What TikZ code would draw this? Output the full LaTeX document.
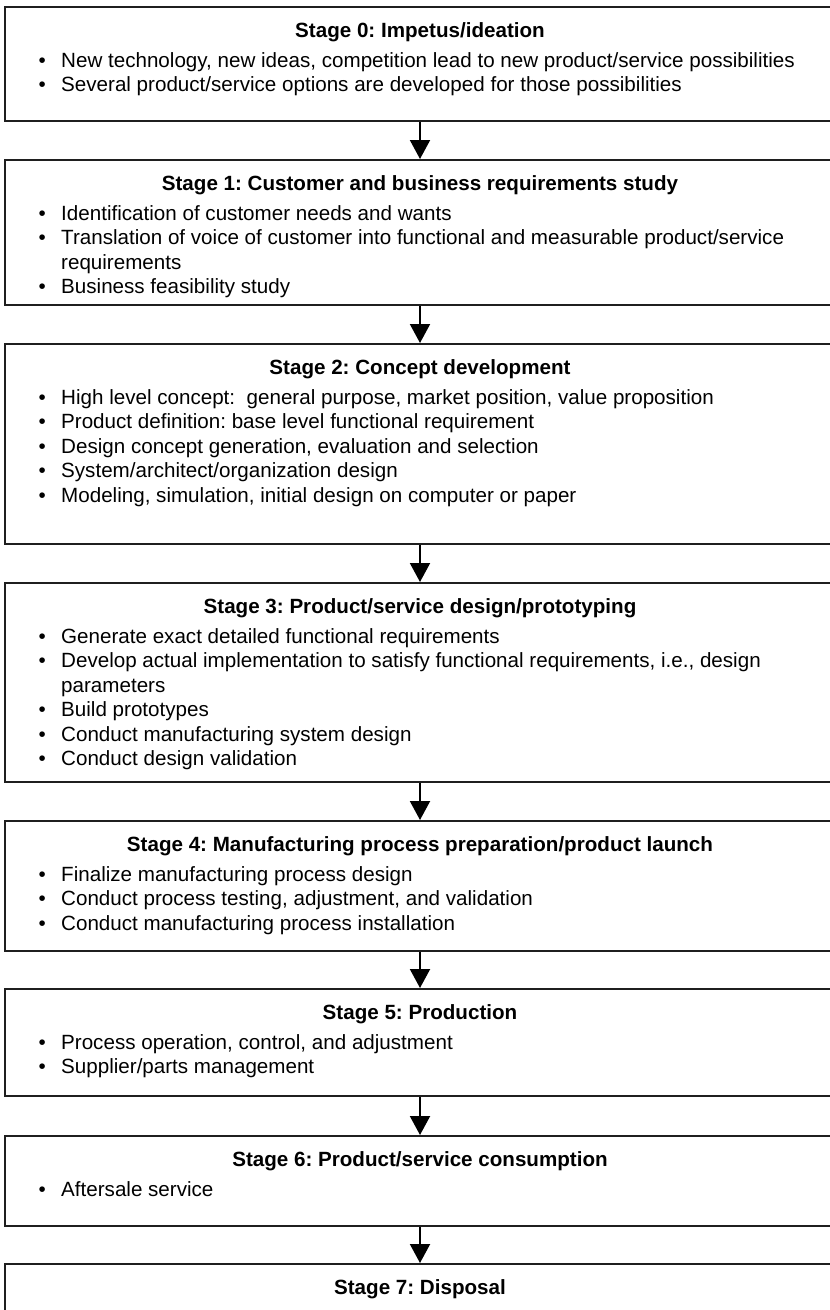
\documentclass[tikz,border=0pt]{standalone}
\usepackage{fontspec}
\setmainfont{Liberation Sans}
\usetikzlibrary{arrows.meta,calc}
\frenchspacing

% one bullet line with a hanging indent for wrapped text
\newcommand{\bitem}[1]{\par\hangindent=22.5pt\hangafter=1\noindent\hbox to 22.5pt{\textbullet\hss}#1}
% a block of bullet lines; its baseline is that of its first line
\newcommand{\stagelist}[1]{\vtop{\hsize=790pt\raggedright\parindent=0pt\fontsize{20.6}{24.5}\selectfont #1\par}}

\begin{document}
\begin{tikzpicture}[x=1pt,y=-1pt,
  stagebox/.style={draw=black!88, line width=2pt, fill=white, anchor=north,
    minimum width=830pt, inner sep=0pt},
  stagetitle/.style={anchor=base, inner sep=0pt, font=\fontsize{20.6}{24.5}\selectfont\bfseries},
  stageitems/.style={anchor=base west, inner sep=0pt},
  flowarrow/.style={draw=black, line width=2pt, -{Triangle[length=19pt,width=20pt]}}]

\useasboundingbox (0,0) rectangle (830,1310);
\clip (0,0) rectangle (830,1310);

% stage boxes
\node[stagebox, minimum height=114pt] (b0) at (420,6) {};
\node[stagebox, minimum height=145pt] (b1) at (420,159) {};
\node[stagebox, minimum height=200pt] (b2) at (420,343) {};
\node[stagebox, minimum height=199pt] (b3) at (420,582) {};
\node[stagebox, minimum height=130pt] (b4) at (420,820) {};
\node[stagebox, minimum height=107pt] (b5) at (420,988) {};
\node[stagebox, minimum height=90pt]  (b6) at (420,1135) {};
\node[stagebox, minimum height=100pt] (b7) at (420,1263) {};

% titles
\node[stagetitle] (t0) at ($(b0.north)+(0,31)$) {Stage 0: Impetus/ideation};
\node[stagetitle] (t1) at ($(b1.north)+(0,31)$) {Stage 1: Customer and business requirements study};
\node[stagetitle] (t2) at ($(b2.north)+(0,31)$) {Stage 2: Concept development};
\node[stagetitle] (t3) at ($(b3.north)+(0,31)$) {Stage 3: Product/service design/prototyping};
\node[stagetitle] (t4) at ($(b4.north)+(0,31)$) {Stage 4: Manufacturing process preparation/product launch};
\node[stagetitle] (t5) at ($(b5.north)+(0,31)$) {Stage 5: Production};
\node[stagetitle] (t6) at ($(b6.north)+(0,31)$) {Stage 6: Product/service consumption};
\node[stagetitle] (t7) at ($(b7.north)+(0,31)$) {Stage 7: Disposal};

% bullet lists
\node[stageitems] (l0) at ($(b0.north west)+(34.5,61)$) {\stagelist{%
  \bitem{New technology, new ideas, competition lead to new product/service possibilities}
  \bitem{Several product/service options are developed for those possibilities}}};
\node[stageitems] (l1) at ($(b1.north west)+(34.5,61)$) {\stagelist{%
  \bitem{Identification of customer needs and wants}
  \bitem{Translation of voice of customer into functional and measurable product/service\newline requirements}
  \bitem{Business feasibility study}}};
\node[stageitems] (l2) at ($(b2.north west)+(34.5,61)$) {\stagelist{%
  \bitem{High level concept:\ \ general purpose, market position, value proposition}
  \bitem{Product definition: base level functional requirement}
  \bitem{Design concept generation, evaluation and selection}
  \bitem{System/architect/organization design}
  \bitem{Modeling, simulation, initial design on computer or paper}}};
\node[stageitems] (l3) at ($(b3.north west)+(34.5,61)$) {\stagelist{%
  \bitem{Generate exact detailed functional requirements}
  \bitem{Develop actual implementation to satisfy functional requirements, i.e., design\newline parameters}
  \bitem{Build prototypes}
  \bitem{Conduct manufacturing system design}
  \bitem{Conduct design validation}}};
\node[stageitems] (l4) at ($(b4.north west)+(34.5,61)$) {\stagelist{%
  \bitem{Finalize manufacturing process design}
  \bitem{Conduct process testing, adjustment, and validation}
  \bitem{Conduct manufacturing process installation}}};
\node[stageitems] (l5) at ($(b5.north west)+(34.5,61)$) {\stagelist{%
  \bitem{Process operation, control, and adjustment}
  \bitem{Supplier/parts management}}};
\node[stageitems] (l6) at ($(b6.north west)+(34.5,61)$) {\stagelist{%
  \bitem{Aftersale service}}};

% flow between stages
\draw[flowarrow] (b0.south) -- (b1.north);
\draw[flowarrow] (b1.south) -- (b2.north);
\draw[flowarrow] (b2.south) -- (b3.north);
\draw[flowarrow] (b3.south) -- (b4.north);
\draw[flowarrow] (b4.south) -- (b5.north);
\draw[flowarrow] (b5.south) -- (b6.north);
\draw[flowarrow] (b6.south) -- (b7.north);

\end{tikzpicture}
\end{document}
